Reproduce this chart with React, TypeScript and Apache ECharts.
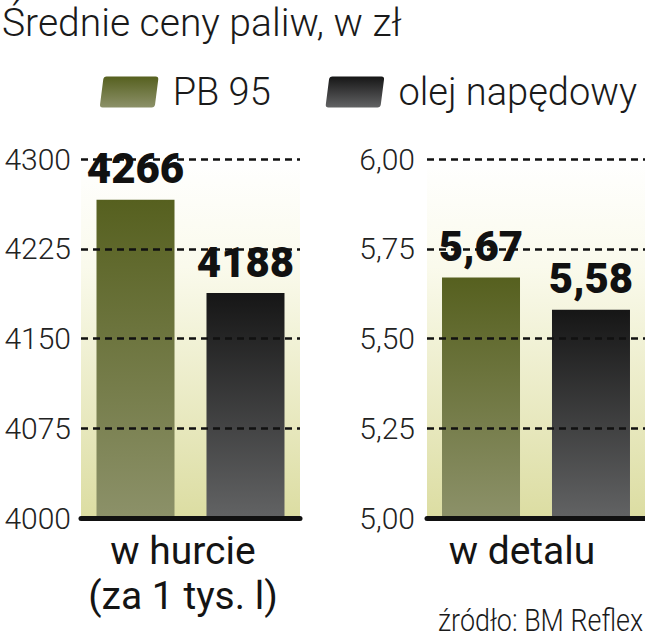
import React, { useEffect, useRef } from "react";
import * as echarts from "echarts";

const titleText = "Średnie ceny paliw, w zł";
const sourceText = "źródło: BM Reflex";
const seriesNames = ["PB 95", "olej napędowy"];
const wholesaleCategory = ["w hurcie\n(za 1 tys. l)"];
const retailCategory = ["w detalu"];
const wholesaleValues = [4266, 4188];
const retailValues = [5.67, 5.58];
const wholesaleTicks = [4000, 4075, 4150, 4225, 4300];
const retailTicks = [5.0, 5.25, 5.5, 5.75, 6.0];

const FONT = "Roboto";

const greenGrad = () =>
  new echarts.graphic.LinearGradient(0, 0, 0, 1, [
    { offset: 0, color: "#56601f" },
    { offset: 1, color: "#8c9169" },
  ]);
const blackGrad = () =>
  new echarts.graphic.LinearGradient(0, 0, 0, 1, [
    { offset: 0, color: "#161616" },
    { offset: 1, color: "#626364" },
  ]);
const bgGrad = () =>
  new echarts.graphic.LinearGradient(0, 0, 0, 1, [
    { offset: 0, color: "#ffffff" },
    { offset: 0.3, color: "#fafaec" },
    { offset: 1, color: "#dcdda2" },
  ]);

const comma = (v: number) => v.toFixed(2).replace(".", ",");

export default function App() {
  const ref = useRef<HTMLDivElement>(null);
  useEffect(() => {
    document.body.style.margin = "0";
    const chart = echarts.init(ref.current!, null, { renderer: "svg" });
    const grads = [greenGrad, blackGrad];

    const yAxisBase = (ticks: number[], fmt: (v: number) => string, margin: number) => ({
      type: "value",
      min: ticks[0],
      max: ticks[ticks.length - 1],
      interval: ticks[1] - ticks[0],
      z: 3,
      axisLine: { show: false },
      axisTick: { show: false },
      axisLabel: {
        formatter: fmt,
        margin,
        fontFamily: FONT,
        fontWeight: 300,
        fontSize: 30,
        color: "#222",
      },
      splitLine: {
        show: true,
        lineStyle: { color: "#111", width: 2.5, type: [7, 5] },
      },
    });

    const xAxisVisible = (data: string[], gridIndex: number, padRight: number) => ({
      type: "category",
      gridIndex,
      data,
      z: 4,
      axisLine: { show: true, lineStyle: { color: "#111", width: 5 } },
      axisTick: { show: false },
      axisLabel: {
        margin: 10,
        fontFamily: FONT,
        fontWeight: 400,
        fontSize: 39,
        lineHeight: 45,
        color: "#141414",
        padding: [0, padRight, 0, 0],
      },
    });
    const xAxisHidden = (data: string[], gridIndex: number) => ({
      type: "category",
      gridIndex,
      data,
      show: false,
    });

    const labelStyle = (fmt: (v: number) => string) => ({
      show: true,
      position: "top",
      distance: 10,
      fontFamily: FONT,
      fontWeight: 900,
      fontSize: 42,
      color: "#111",
      formatter: (p: any) => fmt(p.value),
    });

    const series: any[] = [];
    const panels = [
      { values: wholesaleValues, x: 0, lx: 2, y: 0, fmt: (v: number) => String(v) },
      { values: retailValues, x: 1, lx: 3, y: 1, fmt: comma },
    ];
    panels.forEach((p) => {
      p.values.forEach((v, i) => {
        series.push({
          type: "bar",
          name: seriesNames[i],
          xAxisIndex: p.x,
          yAxisIndex: p.y,
          data: [v],
          barWidth: 78,
          barGap: "41%",
          z: 2,
          itemStyle: { color: grads[i]() },
        });
      });
    });
    panels.forEach((p) => {
      p.values.forEach((v, i) => {
        series.push({
          type: "bar",
          name: seriesNames[i],
          xAxisIndex: p.lx,
          yAxisIndex: p.y,
          data: [v],
          barWidth: 78,
          barGap: "41%",
          z: 6,
          itemStyle: { color: "rgba(0,0,0,0)" },
          label: labelStyle(p.fmt),
        });
      });
    });

    chart.setOption({
      animation: false,
      grid: [
        {
          left: 81,
          top: 159,
          width: 219,
          height: 359,
          show: true,
          borderWidth: 0,
          backgroundColor: bgGrad(),
        },
        {
          left: 427,
          top: 159,
          width: 218,
          height: 359,
          show: true,
          borderWidth: 0,
          backgroundColor: bgGrad(),
        },
      ],
      legend: {
        data: seriesNames,
        left: 100,
        top: 73,
        width: 545,
        padding: 0,
        itemWidth: 59,
        itemHeight: 31,
        itemGap: 55,
        icon: "path://M7,0 L56,0 Q59,0 58.6,3 L55.4,28 Q55,31 52,31 L3,31 Q0,31 0.4,28 L3.6,3 Q4,0 7,0 Z",
        textStyle: {
          fontFamily: FONT,
          fontWeight: 300,
          fontSize: 38,
          color: "#1a1a1a",
          padding: [0, 0, 0, 9],
        },
      },
      xAxis: [
        xAxisVisible(wholesaleCategory, 0, 15),
        xAxisVisible(retailCategory, 1, 28),
        xAxisHidden(wholesaleCategory, 0),
        xAxisHidden(retailCategory, 1),
      ],
      yAxis: [
        { ...yAxisBase(wholesaleTicks, (v: number) => String(v), 10), gridIndex: 0 },
        { ...yAxisBase(retailTicks, comma, 12), gridIndex: 1 },
      ],
      series,
      graphic: [
        {
          type: "text",
          x: 2,
          y: 23,
          style: {
            text: titleText,
            font: `300 39px ${FONT}`,
            fill: "#1a1a1a",
            textAlign: "left",
            textVerticalAlign: "middle",
            align: "left",
            verticalAlign: "middle",
          },
        },
        {
          type: "text",
          x: 643,
          y: 620,
          scaleX: 0.84,
          style: {
            text: sourceText,
            font: `300 32px ${FONT}`,
            fill: "#1a1a1a",
            textAlign: "right",
            textVerticalAlign: "middle",
            align: "right",
            verticalAlign: "middle",
          },
        },
      ],
    });
    return () => chart.dispose();
  }, []);
  return <div ref={ref} style={{ width: 645, height: 640 }} />;
}
